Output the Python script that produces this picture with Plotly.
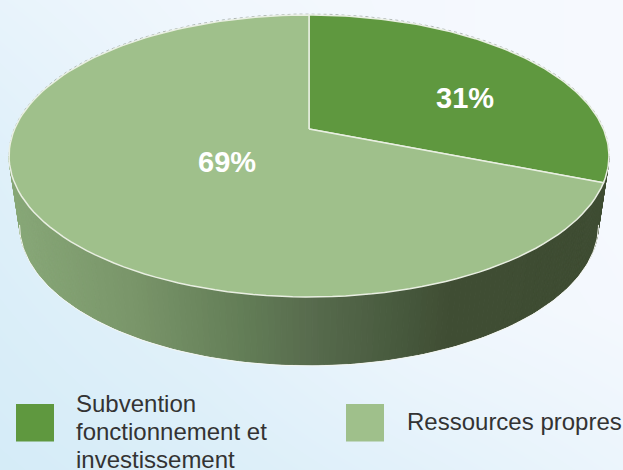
import numpy as np
import plotly.graph_objects as go

#Values
categories = ['Subvention fonctionnement et investissement', 'Ressources propres']
legend_lines = [['Subvention', 'fonctionnement et', 'investissement'], ['Ressources propres']]
values = [31, 69]
colors = ['#5f983f', '#9fc08b']

#Pie geometry in pixels: a tilted disc seen in perspective
W, H = 623, 470
CX, CY = 309, 129
RX, RY = 294.4, 135.8
PERSP = 0.1915
DEPTH = 68
BOTTOM_SCALE = 0.965
RIM = '#e9efe2'

#Side wall shading, left to right
wall_x = [9, 130, 250, 310, 400, 450, 608]
wall_r = [136, 122, 98, 88, 72, 64, 62]
wall_g = [168, 150, 124, 108, 90, 78, 76]
wall_b = [120, 106, 86, 78, 62, 52, 50]

#Label positions and legend layout
label_xy = [(465, 98), (227, 162)]
swatch_x = [16, 346]
swatch_y = (404, 441.5)
legend_text_x = [76, 407]
legend_text_y = [403, 421]
LINE_STEP = 28


def project(theta):
	#theta is clockwise from the top, in degrees
	t = np.radians(theta)
	u, v = np.sin(t), np.cos(t)
	w = 1 + PERSP*v
	return CX + RX*u/w, CY - RY*v/w


def project_bottom(theta):
	x, y = project(theta)
	return CX + (x - CX)*BOTTOM_SCALE, y + DEPTH


fig = go.Figure()

#Background wash
fig.add_trace(go.Heatmap(
	x=[0, 208, 415, 623], y=[0, 157, 313, 470],
	z=[[.60, .85, .95, 1.0],
		 [.35, .70, .95, 1.0],
		 [.20, .45, .80, .95],
		 [.05, .22, .45, .70]],
	zsmooth='best', showscale=False, hoverinfo='skip',
	colorscale=[[0, '#d3ebf7'], [1, '#f6f9fe']], zmin=0, zmax=1))

#Faint dotted outline behind the far side of the disc
back = np.linspace(259, 461, 200)
ox, oy = project(back)
fig.add_trace(go.Scatter(x=ox, y=oy - 1, mode='lines',
	line=dict(color='rgba(110,120,110,.55)', width=1, dash='dot'),
	hoverinfo='skip', showlegend=False))

#Side wall as thin strips with the shade changing across
angles = np.linspace(259, 101, 160)
for a0, a1 in zip(angles[:-1], angles[1:]):
	x0, y0 = project(a0)
	x1, y1 = project(a1)
	bx0, by0 = project_bottom(a0)
	bx1, by1 = project_bottom(a1)
	mid = (x0 + x1)/2
	col = 'rgb(%d,%d,%d)' % (np.interp(mid, wall_x, wall_r),
		np.interp(mid, wall_x, wall_g), np.interp(mid, wall_x, wall_b))
	fig.add_trace(go.Scatter(x=[x0, x1, bx1, bx0, x0], y=[y0, y1, by1, by0, y0],
		mode='lines', fill='toself', fillcolor=col, line=dict(color=col, width=1),
		hoverinfo='skip', showlegend=False))

#Thin light edge along the bottom of the wall
bx, by = project_bottom(angles)
fig.add_trace(go.Scatter(x=bx, y=by + 1, mode='lines',
	line=dict(color='#f4f6f0', width=1), hoverinfo='skip', showlegend=False))

#Top of the pie, one wedge per value
start = 0
for name, val, col in zip(categories, values, colors):
	sweep = val/sum(values)*360
	th = np.linspace(start, start + sweep, 120)
	x, y = project(th)
	fig.add_trace(go.Scatter(x=np.r_[CX, x, CX], y=np.r_[CY, y, CY],
		mode='lines', fill='toself', fillcolor=col, line=dict(color=RIM, width=1.5),
		name=name, hoverinfo='name', showlegend=False))
	start += sweep

#Percent labels
for val, (lx, ly) in zip(values, label_xy):
	fig.add_annotation(x=lx, y=ly, text=f'<b>{val}%</b>', showarrow=False,
		font=dict(family='Liberation Sans', size=29, color='white'))

#Legend, drawn by hand since the entries wrap tighter than plotly's line height
for lines, col, sx, tx, ty in zip(legend_lines, colors, swatch_x, legend_text_x, legend_text_y):
	fig.add_shape(type='rect', x0=sx, x1=sx + 38, y0=swatch_y[0], y1=swatch_y[1],
		fillcolor=col, line_width=0)
	for i, line in enumerate(lines):
		fig.add_annotation(x=tx, y=ty + i*LINE_STEP, text=line, showarrow=False,
			xanchor='left', xshift=-2, font=dict(family='Liberation Sans', size=24, color='#333333'))

fig.update_layout(width=W, height=H, margin=dict(l=0, r=0, t=0, b=0, pad=0),
	showlegend=False, paper_bgcolor='#eef6fc', plot_bgcolor='#eef6fc',
	xaxis=dict(range=[0, W], visible=False, fixedrange=True),
	yaxis=dict(range=[H, 0], visible=False, fixedrange=True))

fig.write_html('out.html', config={'displayModeBar': False},
	post_script="document.body.style.margin='0';document.body.style.overflow='hidden';")
